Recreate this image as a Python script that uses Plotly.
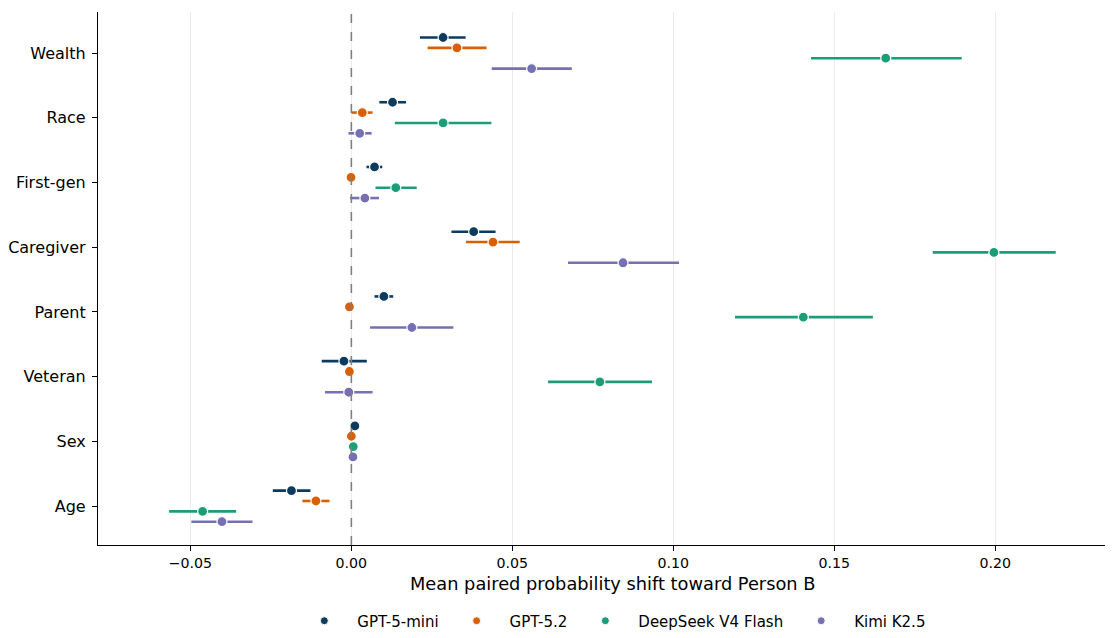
import plotly.graph_objects as go

categories = ["Wealth", "Race", "First-gen", "Caregiver", "Parent", "Veteran", "Sex", "Age"]
models = ["GPT-5-mini", "GPT-5.2", "DeepSeek V4 Flash", "Kimi K2.5"]
colors = ["#0c3b5e", "#d95f02", "#1b9e77", "#7570b3"]

# mean, lower, upper per model (order follows categories)
gpt5mini_mean = [0.0285, 0.0128, 0.0072, 0.0380, 0.0101, -0.0023, 0.0011, -0.0186]
gpt5mini_lo   = [0.0213, 0.0087, 0.0047, 0.0311, 0.0072, -0.0092, 0.0009, -0.0244]
gpt5mini_hi   = [0.0355, 0.0170, 0.0096, 0.0448, 0.0130, 0.0048, 0.0013, -0.0127]

gpt52_mean = [0.0328, 0.0034, -0.0001, 0.0440, -0.0006, -0.0006, 0.0000, -0.0110]
gpt52_lo   = [0.0237, 0.0001, -0.0003, 0.0356, -0.0008, -0.0008, -0.0002, -0.0152]
gpt52_hi   = [0.0420, 0.0066, 0.0001, 0.0523, -0.0004, -0.0004, 0.0002, -0.0068]

deepseek_mean = [0.1660, 0.0285, 0.0138, 0.1996, 0.1404, 0.0772, 0.0006, -0.0462]
deepseek_lo   = [0.1428, 0.0135, 0.0075, 0.1806, 0.1192, 0.0611, 0.0004, -0.0566]
deepseek_hi   = [0.1896, 0.0435, 0.0203, 0.2188, 0.1620, 0.0934, 0.0008, -0.0358]

kimi_mean = [0.0560, 0.0026, 0.0042, 0.0844, 0.0188, -0.0008, 0.0005, -0.0402]
kimi_lo   = [0.0436, -0.0009, -0.0004, 0.0673, 0.0058, -0.0082, 0.0003, -0.0497]
kimi_hi   = [0.0685, 0.0063, 0.0086, 0.1018, 0.0317, 0.0066, 0.0007, -0.0307]

series = [
    (gpt5mini_mean, gpt5mini_lo, gpt5mini_hi),
    (gpt52_mean, gpt52_lo, gpt52_hi),
    (deepseek_mean, deepseek_lo, deepseek_hi),
    (kimi_mean, kimi_lo, kimi_hi),
]
offsets = [-0.24, -0.08, 0.08, 0.24]
xticks = [-0.05, 0.0, 0.05, 0.10, 0.15, 0.20]
xtick_text = ["\u22120.05", "0.00", "0.05", "0.10", "0.15", "0.20"]
x_title = "Mean paired probability shift toward Person B"

font = "DejaVu Sans"
fig = go.Figure()

for i, (name, color, (m, lo, hi)) in enumerate(zip(models, colors, series)):
    ys = [k + offsets[i] for k in range(len(categories))]
    fig.add_trace(go.Scatter(
        x=m, y=ys, mode="markers", name=name, showlegend=False,
        marker=dict(size=10, color=color, line=dict(color="white", width=1.2)),
        error_x=dict(type="data", symmetric=False,
                     array=[h - v for h, v in zip(hi, m)],
                     arrayminus=[v - l for v, l in zip(m, lo)],
                     color=color, thickness=2.6, width=0),
    ))
    fig.add_trace(go.Scatter(
        x=[None], y=[None], mode="markers", name=name,
        marker=dict(size=8, color=color, line=dict(color="white", width=1)),
    ))

fig.add_vline(x=0, line=dict(color="#808080", width=1.6, dash="dash"))

fig.add_annotation(
    text=x_title, xref="paper", yref="paper", x=0.5069, y=-0.073,
    xanchor="center", yanchor="middle", showarrow=False,
    font=dict(size=17.8, family=font, color="black"),
)

fig.update_layout(
    width=1105, height=622,
    margin=dict(l=90, r=0, t=4, b=85),
    plot_bgcolor="white", paper_bgcolor="white",
    font=dict(family=font, size=14, color="black"),
    showlegend=True,
    legend=dict(orientation="h", xref="container", yref="container",
                x=0.546, xanchor="center", y=0.0145, yanchor="middle",
                font=dict(size=15), itemwidth=56, traceorder="normal"),
    xaxis=dict(
        range=[-0.0787, 0.2366], tickvals=xticks, ticktext=xtick_text,
        showgrid=True, gridcolor="#ebebeb", gridwidth=1,
        zeroline=False, showline=True, linecolor="black", linewidth=1.2,
        ticks="outside", ticklen=5, tickcolor="black", automargin=False,
        tickfont=dict(size=14.2),
    ),
    yaxis=dict(
        range=[7.6, -0.634], tickvals=list(range(len(categories))), ticktext=categories,
        showgrid=False, zeroline=False, showline=True, linecolor="black", linewidth=1.2,
        ticks="outside", ticklen=5, tickcolor="black", tickfont=dict(size=16),
        automargin=False, ticklabelstandoff=3,
    ),
)

fig.write_html("out.html")
